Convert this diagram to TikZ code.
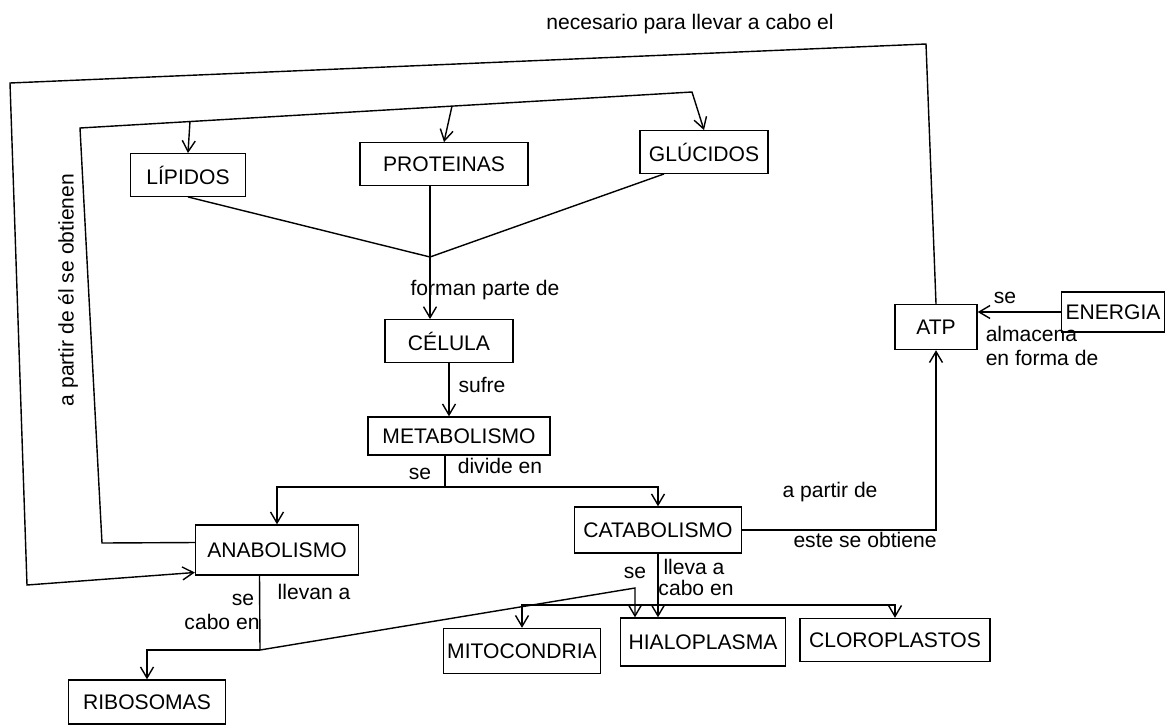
\documentclass[tikz,border=0pt]{standalone}
\usepackage{fontspec}
\setmainfont{Liberation Sans}
\usetikzlibrary{arrows.meta}

\tikzset{
  concept/.style={draw, line width=0.8pt, minimum height=0.85cm, inner sep=2pt, font=\large},
  link/.style={font=\large, inner sep=1pt},
  ln/.style={line width=0.8pt},
  arr/.style={ln, -{Straight Barb[length=2.2mm,width=2.6mm]}},
}

\begin{document}
\begin{tikzpicture}[x=0.02cm,y=-0.02cm]
\useasboundingbox (0,0) rectangle (1172,724);

% conceptos
\node[concept, minimum width=2.3cm] (lip) at (188,175) {LÍPIDOS};
\node[concept, minimum width=3.36cm] (pro) at (444,164) {PROTEINAS};
\node[concept, minimum width=2.56cm] (glu) at (704,152) {GLÚCIDOS};
\node[concept, minimum width=2.56cm] (cel) at (449,341) {CÉLULA};
\node[concept, minimum width=3.64cm, minimum height=0.76cm] (met) at (459,436) {METABOLISMO};
\node[concept, minimum width=3.26cm, minimum height=1cm] (ana) at (277,550) {ANABOLISMO};
\node[concept, minimum width=3.34cm, minimum height=0.92cm] (cat) at (658,530) {CATABOLISMO};
\node[concept, minimum width=1.64cm, minimum height=0.9cm] (atp) at (936,327) {ATP};
\node[concept, minimum width=2.06cm, minimum height=0.8cm] (ene) at (1113,312) {ENERGIA};
\node[concept, minimum width=3.14cm, minimum height=0.88cm] (rib) at (147,702) {RIBOSOMAS};
\node[concept, minimum width=3.1cm, minimum height=0.9cm] (mit) at (522,651) {MITOCONDRIA};
\node[concept, minimum width=3.3cm, minimum height=0.96cm] (hia) at (703,642) {HIALOPLASMA};
\node[concept, minimum width=3.8cm, minimum height=0.86cm] (clo) at (895,640) {CLOROPLASTOS};

% puntos de union
\coordinate (j) at (430,257);
\coordinate (d) at (445,487);
\coordinate (a1) at (260,650);
\coordinate (a2) at (635,588);
\coordinate (c1) at (658,605);

% marcos exteriores
\coordinate (o1) at (926,44);
\coordinate (o2) at (10,83);
\coordinate (o3) at (27,585);
\coordinate (i1) at (102,543);
\coordinate (i2) at (80,128);
\coordinate (i3) at (692,92);
\coordinate (bl) at (190,121);
\coordinate (bp) at (452,106);

% biomoleculas -> celula
\draw[ln] (lip.south) -- (j);
\draw[ln] (j |- pro.south) -- (j);
\draw[ln] ([xshift=-0.8cm]glu.south) -- (j);
\draw[arr] (j) -- (j |- cel.north);
\draw[arr] (cel.south) -- (cel.south |- met.north);

% metabolismo
\draw[ln] (d |- met.south) -- (d);
\draw[arr] (d) -| (ana.north);
\draw[arr] (d) -| (cat.north);

% atp y energia
\draw[arr] (ene.west) -- (ene.west -| atp.east);
\draw[arr] (cat.east) -| (atp.south);
\draw[arr] (atp.north) -- (o1) -- (o2) -- (o3) -- ([yshift=-0.45cm]ana.west);

% anabolismo -> biomoleculas
\draw[arr] ([yshift=0.15cm]ana.west) -- (i1) -- (i2) -- (i3) -- (glu.north);
\draw[arr] (bl) -- (lip.north);
\draw[arr] (bp) -- (pro.north);

% donde se llevan a cabo
\draw[ln] ([xshift=-0.35cm]ana.south) -- (a1);
\draw[arr] (a1) -| (rib.north);
\draw[arr] (a1) -- (a2) -- (a2 |- hia.north);
\draw[ln] (cat.south) -- (c1);
\draw[arr] (c1) -| (mit.north);
\draw[arr] (c1) -- (c1 |- hia.north);
\draw[arr] (c1) -| (clo.north);

% textos de enlace
\node[link] (tnec) at (690,24) {necesario para llevar a cabo el};
\node[link, rotate=90] (tobt) at (68,290) {a partir de él se obtienen};
\node[link] (tfor) at (485,290) {forman parte de};
\node[link] (tsuf) at (482,385) {sufre};
\node[link] (tse1) at (420,474) {se};
\node[link] (tdiv) at (500,466) {divide en};
\node[link] (tpar) at (830,492) {a partir de};
\node[link] (test) at (865,540) {este se obtiene};
\node[link] (tse2) at (1005,298) {se};
\node[link, align=left] (talm) at (1042,346) {almacena\\en forma de};
\node[link] (tse3) at (243,600) {se};
\node[link] (tlle1) at (314,592) {llevan a};
\node[link] (tcab1) at (222,622) {cabo en};
\node[link] (tse4) at (635,573) {se};
\node[link] (tlle2) at (694,567) {lleva a};
\node[link] (tcab2) at (696,588) {cabo en};
\end{tikzpicture}
\end{document}
